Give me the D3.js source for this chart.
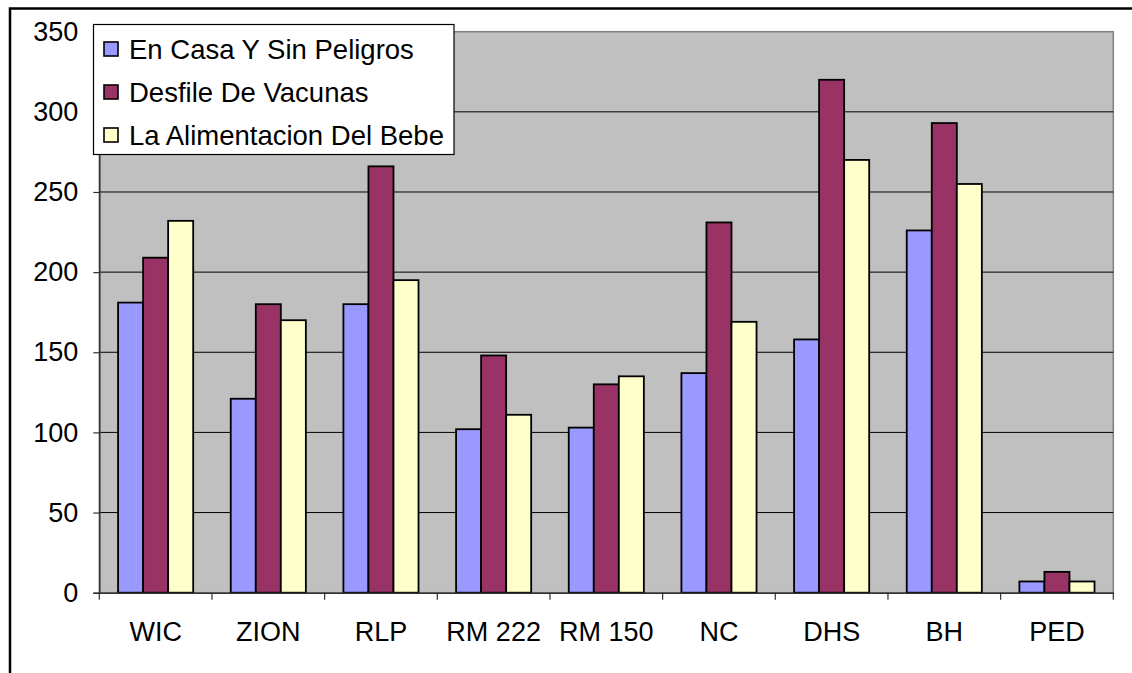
<!DOCTYPE html>
<html>
<head>
<meta charset="utf-8">
<script src="https://cdn.jsdelivr.net/npm/d3@7"></script>
<style>
  html, body { margin: 0; padding: 0; background: #fff; }
  svg { display: block; font-family: "Liberation Sans", Arial, sans-serif; }
</style>
</head>
<body>
<svg id="chart" width="1132" height="673"></svg>
<script>
const categories = ["WIC", "ZION", "RLP", "RM 222", "RM 150", "NC", "DHS", "BH", "PED"];
const seriesNames = ["En Casa Y Sin Peligros", "Desfile De Vacunas", "La Alimentacion Del Bebe"];
const enCasa = [181, 121, 180, 102, 103, 137, 158, 226, 7];
const desfile = [209, 180, 266, 148, 130, 231, 320, 293, 13];
const alimentacion = [232, 170, 195, 111, 135, 169, 270, 255, 7];
const yTicks = [0, 50, 100, 150, 200, 250, 300, 350];
const colors = ["#9999FF", "#993366", "#FFFFCC"];

const seriesValues = [enCasa, desfile, alimentacion];

const svg = d3.select("#chart");

// outer frame
svg.append("rect")
  .attr("x", 10).attr("y", 8.5)
  .attr("width", 1140).attr("height", 700)
  .attr("fill", "#fff").attr("stroke", "#000").attr("stroke-width", 2.5);

const pLeft = 99.3, pRight = 1113.3, pTop = 31.7, pBottom = 592.7;

const x = d3.scaleBand().domain(categories).range([pLeft, pRight]).padding(0);
const bw = x.bandwidth();
const xs = d3.scaleBand().domain(seriesNames).range([bw / 6, bw * 5 / 6]).padding(0);
const y = d3.scaleLinear().domain([0, 350]).range([pBottom, pTop]);

// plot area
svg.append("rect")
  .attr("x", pLeft).attr("y", pTop)
  .attr("width", pRight - pLeft).attr("height", pBottom - pTop)
  .attr("fill", "#C0C0C0").attr("stroke", "#808080").attr("stroke-width", 1.5);

// gridlines
svg.append("g").selectAll("line")
  .data(yTicks.filter(d => d > 0 && d < 350))
  .join("line")
  .attr("x1", pLeft).attr("x2", pRight)
  .attr("y1", d => y(d)).attr("y2", d => y(d))
  .attr("stroke", "#000").attr("stroke-width", 1);

// bars
const rows = [];
categories.forEach((c, i) => {
  seriesNames.forEach((s, j) => {
    rows.push({ c, s, j, v: seriesValues[j][i] });
  });
});
svg.append("g").selectAll("rect")
  .data(rows)
  .join("rect")
  .attr("x", d => x(d.c) + xs(d.s))
  .attr("y", d => y(d.v))
  .attr("width", xs.bandwidth())
  .attr("height", d => y(0) - y(d.v))
  .attr("fill", d => colors[d.j])
  .attr("stroke", "#000").attr("stroke-width", 1.8);

// y axis
const yAxis = d3.axisLeft(y).tickValues(yTicks).tickSize(6).tickPadding(15);
const gy = svg.append("g").attr("transform", `translate(${pLeft},0)`).call(yAxis);
gy.select(".domain").attr("stroke", "#333").attr("stroke-width", 1.5);
gy.selectAll(".tick line").attr("stroke", "#333").attr("stroke-width", 1.2);
gy.selectAll("text").attr("font-size", 27).attr("fill", "#000")
  .attr("font-family", "'Liberation Sans', Arial, sans-serif");

// x axis
const xAxis = d3.axisBottom(x).tickSize(0).tickPadding(0).tickFormat(d => d);
const gx = svg.append("g").attr("transform", `translate(0,${pBottom})`).call(xAxis);
gx.select(".domain").attr("stroke", "#333").attr("stroke-width", 1.5);
gx.selectAll("text").attr("font-size", 27).attr("fill", "#000")
  .attr("dy", 0).attr("y", 48)
  .attr("font-family", "'Liberation Sans', Arial, sans-serif");
// category boundary ticks
svg.append("g").selectAll("line")
  .data(categories.concat(["__end"]))
  .join("line")
  .attr("x1", (d, i) => pLeft + i * bw).attr("x2", (d, i) => pLeft + i * bw)
  .attr("y1", pBottom).attr("y2", pBottom + 7)
  .attr("stroke", "#333").attr("stroke-width", 1.2);

// legend
const lg = svg.append("g");
lg.append("rect")
  .attr("x", 93.5).attr("y", 24.5).attr("width", 360.5).attr("height", 130)
  .attr("fill", "#fff").attr("stroke", "#000").attr("stroke-width", 1.2);
seriesNames.forEach((s, j) => {
  const cy = 49 + j * 43;
  lg.append("rect")
    .attr("x", 104).attr("y", cy - 7).attr("width", 14).attr("height", 14)
    .attr("fill", colors[j]).attr("stroke", "#000").attr("stroke-width", 1.6);
  lg.append("text")
    .attr("x", 129).attr("y", cy + 9.5)
    .attr("font-size", 27.5).attr("fill", "#000")
    .text(s);
});
</script>
</body>
</html>
